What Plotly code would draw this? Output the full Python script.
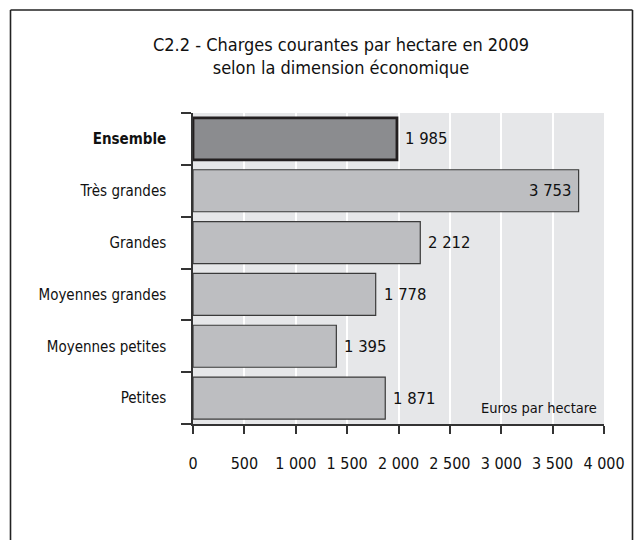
import plotly.graph_objects as go

categories = ["Ensemble", "Très grandes", "Grandes", "Moyennes grandes", "Moyennes petites", "Petites"]
values = [1985, 3753, 2212, 1778, 1395, 1871]
tick_vals = [0, 500, 1000, 1500, 2000, 2500, 3000, 3500, 4000]
tick_text = ["0", "500", "1 000", "1 500", "2 000", "2 500", "3 000", "3 500", "4 000"]
title_lines = ["C2.2 - Charges courantes par hectare en 2009", "selon la dimension économique"]
unit_label = "Euros par hectare"

W, H = 642, 540
L, R, T, B = 193, 38, 113, 116
PW, PH = W - L - R, H - T - B

FONT = "DejaVu Sans Condensed, DejaVu Sans, sans-serif"

def fmt(v):
    return f"{v:,}".replace(",", " ")

fills = ["#8b8c8f" if c == "Ensemble" else "#bdbec1" for c in categories]
lcol = ["#231f20" if c == "Ensemble" else "#3a3a3a" for c in categories]
lw = [2.8 if c == "Ensemble" else 1.2 for c in categories]
ticklabels = ["<b>" + c + "</b>" if c == "Ensemble" else c for c in categories]

fig = go.Figure()
fig.add_trace(go.Bar(
    y=categories, x=values, orientation="h",
    marker=dict(color=fills, line=dict(color=lcol, width=lw)),
    hoverinfo="skip",
))

vmax = max(values)
for c, v in zip(categories, values):
    inside = v == vmax
    fig.add_annotation(
        x=v, y=c, xref="x", yref="y", text=fmt(v), showarrow=False,
        xanchor="right" if inside else "left", xshift=-6 if inside else 6,
        font=dict(family=FONT, size=16.5, color="#111111"),
    )

fig.add_annotation(
    x=1, y=0, xref="paper", yref="paper", xanchor="right", yanchor="bottom",
    xshift=-5, yshift=6, text=unit_label, showarrow=False,
    font=dict(family=FONT, size=14.5, color="#111111"),
)

def px_x(p):
    return (p - L) / PW

def px_y(p):
    return 1 - (p - T) / PH

fr = dict(color="#222222", width=1.6)
fig.add_shape(type="line", xref="paper", yref="paper", x0=px_x(10.5), x1=px_x(10.5), y0=px_y(10), y1=px_y(545), line=fr)
fig.add_shape(type="line", xref="paper", yref="paper", x0=px_x(10.5), x1=px_x(632.5), y0=px_y(10), y1=px_y(10), line=fr)
fig.add_shape(type="line", xref="paper", yref="paper", x0=px_x(632.5), x1=px_x(632.5), y0=px_y(10), y1=px_y(545), line=fr)

fig.update_layout(
    width=W, height=H,
    margin=dict(l=L, r=R, t=T, b=B, pad=0),
    paper_bgcolor="white", plot_bgcolor="#e6e7e9",
    showlegend=False, bargap=0.19,
    title=dict(
        text="<br>".join(title_lines), x=341 / W, xanchor="center",
        y=1 - 51 / H, yanchor="middle", xref="container", yref="container",
        font=dict(family=FONT, size=18, color="#111111"),
    ),
    xaxis=dict(
        range=[0, 4000], tickvals=tick_vals, ticktext=tick_text,
        showgrid=True, gridcolor="white", gridwidth=1.5,
        zeroline=False, showline=True, linecolor="#333333", linewidth=1.5,
        ticks="outside", ticklen=8, tickcolor="#333333", tickwidth=1.5,
        tickfont=dict(family=FONT, size=16, color="#111111"),
        ticklabelstandoff=16, fixedrange=True,
    ),
    yaxis=dict(
        autorange="reversed", tickmode="array", tickvals=categories, ticktext=ticklabels,
        showline=True, linecolor="#333333", linewidth=1.5,
        ticks="outside", tickson="boundaries", ticklen=10, tickcolor="#333333", tickwidth=1.5,
        tickfont=dict(family=FONT, size=15, color="#111111"),
        ticklabelstandoff=22, showgrid=False, fixedrange=True,
    ),
)

fig.write_html("out.html", config={"displayModeBar": False},
               post_script="document.body.style.margin='0px';")
